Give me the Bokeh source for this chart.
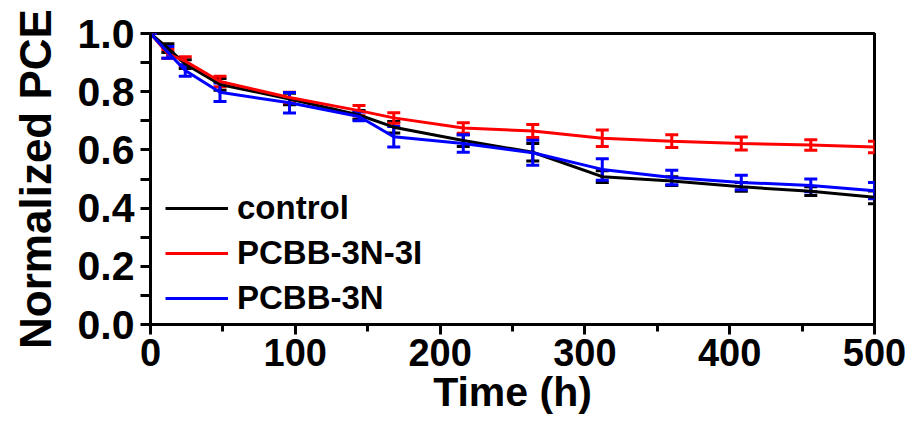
from bokeh.plotting import figure
from bokeh.models import (ColumnDataSource, Whisker, TeeHead, Legend, LegendItem, Range1d,
                          FixedTicker, PrintfTickFormatter)
from bokeh.embed import file_html
from bokeh.resources import INLINE

time_h = [0, 12, 24, 48, 96, 144, 168, 216, 264, 312, 360, 408, 456, 500]
control = [1.0, 0.95, 0.895, 0.825, 0.775, 0.72, 0.678, 0.632, 0.592, 0.508, 0.493, 0.473, 0.458, 0.437]
control_err = [0, 0.015, 0.015, 0.02, 0.02, 0.015, 0.02, 0.02, 0.03, 0.02, 0.015, 0.015, 0.015, 0.022]
pcbb_3n_3i = [1.0, 0.93, 0.905, 0.835, 0.78, 0.735, 0.71, 0.675, 0.665, 0.64, 0.63, 0.622, 0.617, 0.61]
pcbb_3n_3i_err = [0, 0.015, 0.015, 0.018, 0.018, 0.018, 0.018, 0.018, 0.022, 0.028, 0.022, 0.022, 0.018, 0.02]
pcbb_3n = [1.0, 0.935, 0.873, 0.798, 0.762, 0.715, 0.645, 0.622, 0.59, 0.533, 0.505, 0.488, 0.478, 0.46]
pcbb_3n_err = [0, 0.02, 0.02, 0.032, 0.035, 0.015, 0.035, 0.03, 0.043, 0.037, 0.025, 0.025, 0.022, 0.028]

series = [
    ("control", control, control_err, "#000000"),
    ("PCBB-3N-3I", pcbb_3n_3i, pcbb_3n_3i_err, "#ff0000"),
    ("PCBB-3N", pcbb_3n, pcbb_3n_err, "#0000ff"),
]

FONT = "Liberation Sans"

p = figure(width=914, height=421, output_backend="svg", toolbar_location=None,
           x_range=Range1d(0, 500), y_range=Range1d(0, 1.0),
           min_border_left=150, min_border_right=40, min_border_top=33, min_border_bottom=97)
p.grid.visible = False
p.outline_line_color = "black"
p.outline_line_width = 3
p.background_fill_color = "white"
p.border_fill_color = "white"

items = []
for name, vals, errs, col in series:
    src = ColumnDataSource(dict(x=time_h, y=vals,
                                lo=[v - e for v, e in zip(vals, errs)],
                                hi=[v + e for v, e in zip(vals, errs)]))
    r = p.line("x", "y", source=src, line_color=col, line_width=3)
    w = Whisker(source=src, base="x", upper="hi", lower="lo", line_color=col, line_width=3,
                upper_head=TeeHead(size=13, line_color=col, line_width=3),
                lower_head=TeeHead(size=13, line_color=col, line_width=3))
    p.add_layout(w)
    items.append(LegendItem(label=name, renderers=[r]))

legend = Legend(items=items, location=(13, 5), background_fill_alpha=0, border_line_alpha=0,
                label_text_font=FONT, label_text_font_style="bold", label_text_font_size="33px",
                label_text_color="black",
                glyph_width=63, glyph_height=30, spacing=7, padding=2, margin=0,
                label_standoff=9)
p.add_layout(legend, "center")

for ax in (p.xaxis[0], p.yaxis[0]):
    ax.axis_line_width = 3
    ax.major_tick_line_width = 3
    ax.minor_tick_line_width = 3
    ax.major_tick_in = 0
    ax.minor_tick_in = 0
    ax.major_label_text_font = FONT
    ax.major_label_text_font_style = "bold"
    ax.axis_label_text_font = FONT
    ax.axis_label_text_font_style = "bold"
    ax.major_label_text_color = "black"
    ax.axis_label_text_color = "black"

p.xaxis.major_label_text_font_size = "38px"
p.yaxis.major_label_text_font_size = "41px"
p.xaxis.axis_label_text_font_size = "41px"
p.yaxis.axis_label_text_font_size = "44px"
p.xaxis.ticker = FixedTicker(ticks=[0, 100, 200, 300, 400, 500], minor_ticks=[50, 150, 250, 350, 450])
p.yaxis.ticker = FixedTicker(ticks=[0, 0.2, 0.4, 0.6, 0.8, 1.0], minor_ticks=[0.1, 0.3, 0.5, 0.7, 0.9])
p.yaxis.formatter = PrintfTickFormatter(format="%.1f")
p.xaxis.major_tick_out = 10
p.xaxis.minor_tick_out = 7
p.yaxis.major_tick_out = 10
p.yaxis.minor_tick_out = 10
p.xaxis.major_label_standoff = 4
p.yaxis.major_label_standoff = 6
p.xaxis.axis_label = "Time (h)"
p.yaxis.axis_label = "Normalized PCE"
p.xaxis.axis_label_standoff = 0
p.yaxis.axis_label_standoff = 15

open("out.html", "w").write(file_html(p, INLINE))
